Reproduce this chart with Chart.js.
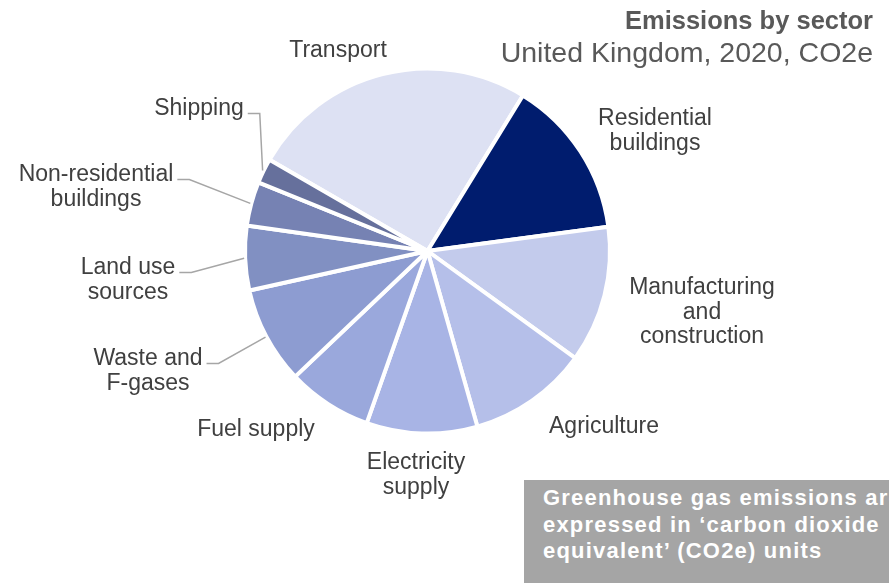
<!DOCTYPE html>
<html lang="en">
<head>
    <meta charset="UTF-8">
    <script src="https://cdn.jsdelivr.net/npm/chart.js@4.4.0/dist/chart.umd.min.js"></script>
    <style>
        body {
            margin: 0;
            background: #fff;
            font-family: "Liberation Sans", Arial, sans-serif;
        }

        .wrap {
            position: relative;
            width: 889px;
            height: 583px;
            overflow: hidden;
        }

        canvas {
            position: absolute;
            left: 0;
            top: 0;
        }

        .title {
            position: absolute;
            right: 16px;
            top: 8px;
            font-size: 25.5px;
            line-height: 25.5px;
            font-weight: bold;
            color: #595959;
            white-space: nowrap;
        }

        .subtitle {
            position: absolute;
            right: 16px;
            top: 38px;
            font-size: 28.5px;
            line-height: 28.5px;
            color: #595959;
            white-space: nowrap;
        }

        .note {
            position: absolute;
            left: 524px;
            top: 480px;
            width: 365px;
            height: 103px;
            background: #a5a5a5;
            color: #fff;
            font-size: 22px;
            font-weight: bold;
            line-height: 26.5px;
            letter-spacing: 1.2px;
            padding: 5px 0 0 19px;
            box-sizing: border-box;
            white-space: nowrap;
            overflow: hidden;
        }
    </style>
    <title>Emissions by sector</title>
</head>
<body>
    <div class="wrap">
        <canvas id="pieCanvas" width="889" height="583"></canvas>
        <div class="title">Emissions by sector</div>
        <div class="subtitle">United Kingdom, 2020, CO2e</div>
        <div class="note">Greenhouse gas emissions are<br>expressed in ‘carbon dioxide<br>equivalent’ (CO2e) units</div>
    </div>

    <script>
        // sectors, clockwise from Transport
        const sectors = [
            ['Transport'],
            ['Residential', 'buildings'],
            ['Manufacturing', 'and', 'construction'],
            ['Agriculture'],
            ['Electricity', 'supply'],
            ['Fuel supply'],
            ['Waste and', 'F-gases'],
            ['Land use', 'sources'],
            ['Non-residential', 'buildings'],
            ['Shipping']
        ];
        // share of total emissions, %
        const shares = [25.4, 14.1, 12.1, 10.6, 9.8, 7.5, 8.6, 5.7, 3.9, 2.2];

        const sliceColors = [
            '#dde1f3', '#001c6e', '#c3cbec', '#b5bfe9', '#a8b4e5',
            '#9aa8dc', '#8d9cd1', '#8190c2', '#7682b3', '#66709c'
        ];

        // where each label sits: x, first baseline, leader line or not
        const labelLayout = [
            { x: 338, y: 57, leader: false },
            { x: 655, y: 125, leader: false },
            { x: 702, y: 294, leader: false },
            { x: 604, y: 433, leader: false },
            { x: 416, y: 469, leader: false },
            { x: 256, y: 436, leader: false },
            { x: 148, y: 365, leader: true },
            { x: 128, y: 274, leader: true },
            { x: 96, y: 181, leader: true },
            { x: 199, y: 115, leader: true }
        ];
        const lineGap = 24.5;

        const sectorLabels = {
            id: 'sectorLabels',
            afterDatasetsDraw(chart) {
                const ctx = chart.ctx;
                const arcs = chart.getDatasetMeta(0).data;
                ctx.save();
                ctx.font = '23px "Liberation Sans", Arial, sans-serif';
                ctx.textAlign = 'center';
                ctx.textBaseline = 'alphabetic';
                arcs.forEach((arc, i) => {
                    const lines = sectors[i];
                    const pos = labelLayout[i];
                    ctx.fillStyle = '#404040';
                    lines.forEach((line, j) => {
                        ctx.fillText(line, pos.x, pos.y + j * lineGap);
                    });
                    if (pos.leader) {
                        const p = arc.getProps(['x', 'y', 'startAngle', 'endAngle', 'outerRadius'], true);
                        const mid = (p.startAngle + p.endAngle) / 2;
                        const ex = p.x + Math.cos(mid) * (p.outerRadius + 1);
                        const ey = p.y + Math.sin(mid) * (p.outerRadius + 1);
                        const halfW = ctx.measureText(lines[0]).width / 2;
                        const sx = pos.x + halfW + 4;
                        const ly = pos.y - 1.5;
                        ctx.strokeStyle = '#a6a6a6';
                        ctx.lineWidth = 1.5;
                        ctx.beginPath();
                        ctx.moveTo(sx, ly);
                        ctx.lineTo(sx + 12, ly);
                        ctx.lineTo(ex, ey);
                        ctx.stroke();
                    }
                });
                ctx.restore();
            }
        };

        const ctx = document.getElementById('pieCanvas').getContext('2d');
        new Chart(ctx, {
            type: 'pie',
            data: {
                labels: sectors,
                datasets: [{
                    data: shares,
                    backgroundColor: sliceColors,
                    borderColor: '#ffffff',
                    borderWidth: 4
                }]
            },
            options: {
                responsive: false,
                animation: false,
                rotation: -60,
                layout: {
                    padding: { left: 243, top: 66.5, right: 277, bottom: 147.5 }
                },
                plugins: {
                    legend: { display: false },
                    tooltip: { enabled: false }
                }
            },
            plugins: [sectorLabels]
        });
    </script>
</body>
</html>
